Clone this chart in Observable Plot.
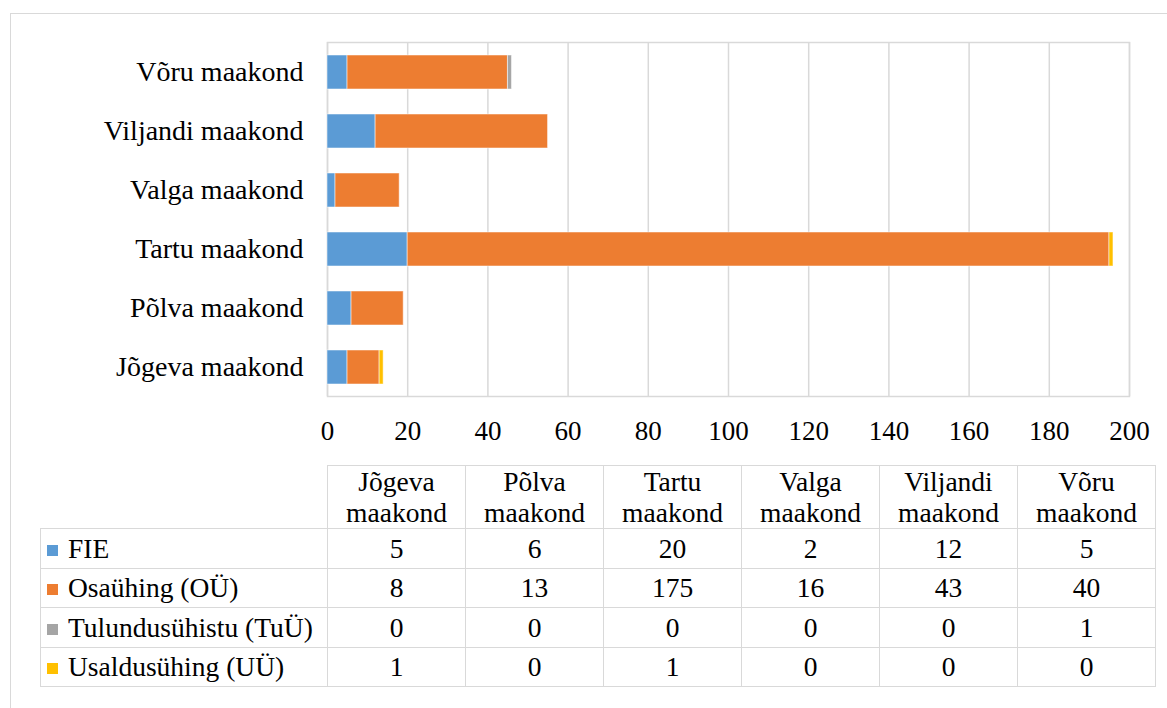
<!DOCTYPE html>
<html>
<head>
<meta charset="utf-8">
<script src="https://cdn.jsdelivr.net/npm/d3@7"></script>
<script src="https://cdn.jsdelivr.net/npm/@observablehq/plot@0.6"></script>
<style>
  html, body { margin: 0; padding: 0; background: #fff; overflow: hidden; width: 1167px; height: 708px; }
  body { position: relative; font-family: "Liberation Serif", "Times New Roman", serif; color: #000; }
  #frame { position: absolute; left: 10px; top: 13px; width: 1200px; height: 760px; border: 1.5px solid #d9d9d9; box-sizing: border-box; }
  #chart { position: absolute; left: 0; top: 0; }
  #chart svg { font-family: "Liberation Serif", "Times New Roman", serif; }
  table { position: absolute; left: 40px; top: 465px; border-collapse: collapse; font-size: 27.5px; table-layout: fixed; }
  td { border: 1.5px solid #d9d9d9; text-align: center; padding: 0; height: 38.5px; line-height: 31px; width: 137px; }
  td.lab { text-align: left; width: 280px; padding-left: 6px; white-space: nowrap; }
  tr.head td { height: 62px; }
  tr.head td.empty { border: none; }
  .sw { display: inline-block; width: 11px; height: 11px; margin-right: 10px; vertical-align: 2px; }
</style>
</head>
<body>
<div id="frame"></div>
<div id="chart"></div>
<script>
const counties = ["Jõgeva maakond", "Põlva maakond", "Tartu maakond", "Valga maakond", "Viljandi maakond", "Võru maakond"];
const countyHeader = [["Jõgeva", "maakond"], ["Põlva", "maakond"], ["Tartu", "maakond"], ["Valga", "maakond"], ["Viljandi", "maakond"], ["Võru", "maakond"]];
const seriesNames = ["FIE", "Osaühing (OÜ)", "Tulundusühistu (TuÜ)", "Usaldusühing (UÜ)"];
const fie = [5, 6, 20, 2, 12, 5];
const ou = [8, 13, 175, 16, 43, 40];
const tuu = [0, 0, 0, 0, 0, 1];
const uu = [1, 0, 1, 0, 0, 0];
const colors = ["#5B9BD5", "#ED7D31", "#A5A5A5", "#FFC000"];
const xTicks = [0, 20, 40, 60, 80, 100, 120, 140, 160, 180, 200];

const seriesValues = [fie, ou, tuu, uu];
const rows = [];
seriesNames.forEach((s, si) => {
  counties.forEach((c, ci) => rows.push({county: c, series: s, value: seriesValues[si][ci]}));
});

const plot = Plot.plot({
  width: 1167,
  height: 450,
  marginLeft: 327,
  marginRight: 38,
  marginTop: 42,
  marginBottom: 54,
  style: { fontSize: "27px", fontFamily: "'Liberation Serif', 'Times New Roman', serif", color: "#000", background: "transparent" },
  x: { domain: [0, 200], ticks: xTicks, tickSize: 0, tickPadding: 24, label: null },
  y: { domain: counties.slice().reverse(), paddingInner: 0.424, paddingOuter: 0.212, tickSize: 0, tickPadding: 24, label: null },
  color: { domain: seriesNames, range: colors },
  marks: [
    Plot.gridX(xTicks, { stroke: "#d9d9d9", strokeOpacity: 1, strokeWidth: 1.5 }),
    Plot.frame({ stroke: "#d9d9d9", strokeWidth: 1.5 }),
    Plot.barX(rows, Plot.stackX({ x: "value", y: "county", fill: "series", order: seriesNames, stroke: "#fff", strokeOpacity: 0.5, strokeWidth: 1 })),
    Plot.axisX({ ticks: xTicks, tickSize: 0, tickPadding: 24, fontSize: 27 }),
    Plot.axisY({ tickSize: 0, tickPadding: 24, fontSize: 28 })
  ]
});
document.getElementById("chart").appendChild(plot);

// data table
const table = document.createElement("table");
const head = document.createElement("tr");
head.className = "head";
const empty = document.createElement("td");
empty.className = "lab empty";
head.appendChild(empty);
countyHeader.forEach(h => {
  const td = document.createElement("td");
  td.innerHTML = h.join("<br>");
  head.appendChild(td);
});
table.appendChild(head);
seriesNames.forEach((s, si) => {
  const tr = document.createElement("tr");
  const lab = document.createElement("td");
  lab.className = "lab";
  lab.innerHTML = `<span class="sw" style="background:${colors[si]}"></span>${s}`;
  tr.appendChild(lab);
  seriesValues[si].forEach(v => {
    const td = document.createElement("td");
    td.textContent = v;
    tr.appendChild(td);
  });
  table.appendChild(tr);
});
document.body.appendChild(table);
</script>
</body>
</html>
